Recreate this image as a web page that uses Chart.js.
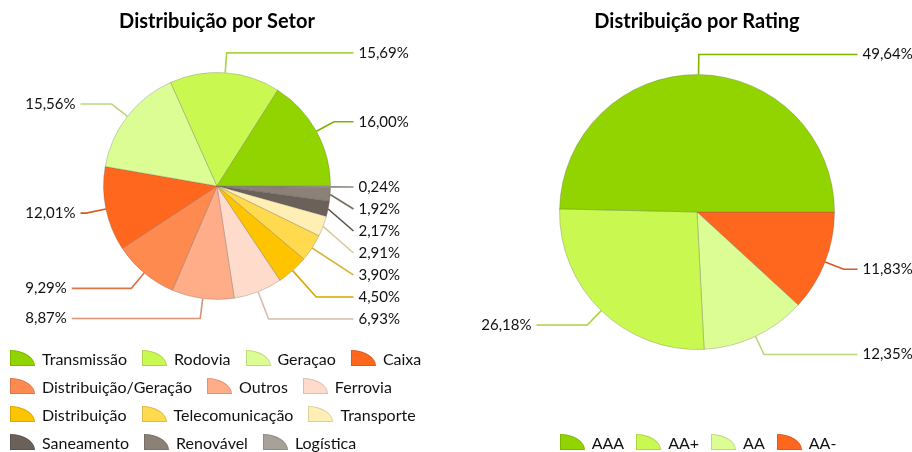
<!DOCTYPE html>
<html><head><meta charset="utf-8">
<script src="https://cdn.jsdelivr.net/npm/chart.js@4"></script>
<style>
html,body{margin:0;padding:0;background:#fff;}
body{width:912px;height:452px;position:relative;overflow:hidden;font-family:Lato,"Open Sans",sans-serif;}
canvas{position:absolute;top:0;}
#c1{left:0}
#c2{left:456px}
.legend{position:absolute;display:flex;flex-wrap:wrap;font-size:16px;color:#111;}
.item{display:flex;align-items:center;height:28px;margin-right:15px;white-space:nowrap;}
.icon{width:25px;height:16px;border-top-right-radius:100% 100%;margin-right:7px;box-sizing:border-box;border:1px solid rgba(0,0,0,0.13);}
#lg1{left:10px;top:344px;width:445px;}
#lg2{left:470px;top:428px;width:456px;justify-content:center;}
#lg2 .item{margin:0 6px;}
</style></head>
<body>
<canvas id="c1" width="456" height="452"></canvas>
<canvas id="c2" width="456" height="452"></canvas>
<div id="lg1" class="legend"></div>
<div id="lg2" class="legend"></div>
<script>
const setorTitle = 'Distribuição por Setor';
const setorLabels = ['Transmissão','Rodovia','Geraçao','Caixa','Distribuição/Geração','Outros','Ferrovia','Distribuição','Telecomunicação','Transporte','Saneamento','Renovável','Logística'];
const setorValues = [16.00,15.69,15.56,12.01,9.29,8.87,6.93,4.50,3.90,2.91,2.17,1.92,0.24];
const setorColors = ['#92D400','#C9F850','#DCFC94','#FF671F','#FF8A50','#FFAD88','#FFDBCC','#FFC400','#FFD94E','#FFEFB5','#6B6158','#8B8177','#A7A199'];

const ratingTitle = 'Distribuição por Rating';
const ratingLabels = ['AAA','AA+','AA','AA-'];
const ratingValues = [49.64,26.18,12.35,11.83];
const ratingColors = ['#92D400','#C9F850','#DCFC94','#FF671F'];

function fmt(v){ return v.toFixed(2).replace('.', ',') + '%'; }
function darken(hex, f){
  f = f || 0.85;
  const n = parseInt(hex.slice(1),16);
  const r = Math.round(((n>>16)&255)*f), g = Math.round(((n>>8)&255)*f), b = Math.round((n&255)*f);
  return 'rgb('+r+','+g+','+b+')';
}

const leaderPlugin = {
  id:'leader',
  afterDatasetsDraw(chart, args, opts){
    const ctx = chart.ctx;
    const meta = chart.getDatasetMeta(0);
    const ds = chart.data.datasets[0];
    const items = [];
    let cx=0, cy=0, R=0;
    meta.data.forEach((arc,i)=>{
      const p = arc.getProps(['x','y','startAngle','endAngle','outerRadius'], true);
      cx=p.x; cy=p.y; R=p.outerRadius;
      const mid=(p.startAngle+p.endAngle)/2;
      const c=Math.cos(mid), s=Math.sin(mid);
      items.push({c, s, ax:cx+R*c, ay:cy+R*s, ly:cy+(R+opts.radial)*s, right:c>=0,
        text:fmt(ds.data[i]), color:darken(ds.backgroundColor[i])});
    });
    ctx.save();
    ctx.font = opts.font;
    ctx.textBaseline = 'middle';
    ['right','left'].forEach(side=>{
      const list = items.filter(it=>(side==='right')===it.right).sort((a,b)=>a.ly-b.ly);
      for (let k=1;k<list.length;k++){
        if (list[k].ly < list[k-1].ly + opts.spacing) list[k].ly = list[k-1].ly + opts.spacing;
      }
      list.forEach(it=>it.w=ctx.measureText(it.text).width);
      const maxW = Math.max(0, ...list.map(it=>it.w));
      list.forEach(it=>{
        let tx, lx;
        if (side==='right'){ tx = cx+R+opts.gap; lx = tx-opts.textPad; }
        else { tx = cx-R-opts.gap-maxW; lx = tx+it.w+opts.textPad; }
        let ex = null;
        if (Math.abs(it.s)>1e-3){
          const t=(it.ly-it.ay)/it.s, x=it.ax+t*it.c;
          if (t>=0 && (side==='right' ? x<lx-4 : x>lx+4)) ex=x;
        }
        ctx.beginPath();
        ctx.moveTo(it.ax,it.ay);
        if (ex!==null) ctx.lineTo(ex,it.ly);
        ctx.lineTo(lx,it.ly);
        ctx.strokeStyle=it.color; ctx.lineWidth=1.6; ctx.stroke();
        ctx.fillStyle='#111'; ctx.textAlign='left';
        ctx.fillText(it.text,tx,it.ly);
      });
    });
    ctx.restore();
  }
};

function makePie(id, title, labels, values, colors, padding){
  const rl = labels.slice().reverse(), rv = values.slice().reverse(), rc = colors.slice().reverse();
  return new Chart(document.getElementById(id), {
    type:'pie',
    data:{labels:rl, datasets:[{data:rv, backgroundColor:rc, borderColor:'rgba(90,90,90,0.28)', borderWidth:1}]},
    options:{
      responsive:false, animation:false, rotation:90,
      layout:{padding:padding},
      plugins:{
        legend:{display:false}, tooltip:{enabled:false},
        title:{display:true, text:title, color:'#000', font:{family:'Lato', size:20, weight:'bold'}, padding:{top:10,bottom:0}},
        leader:{radial:20, spacing:22, gap:28, textPad:5, font:'15px Lato'}
      }
    },
    plugins:[leaderPlugin]
  });
}

makePie('c1', setorTitle, setorLabels, setorValues, setorColors, {left:103, right:125, top:0, bottom:114});
makePie('c2', ratingTitle, ratingLabels, ratingValues, ratingColors, {left:103, right:77, top:0, bottom:62});

function legend(id, labels, colors){
  const el = document.getElementById(id);
  labels.forEach((l,i)=>{
    const it = document.createElement('div'); it.className='item';
    const ic = document.createElement('div'); ic.className='icon'; ic.style.background=colors[i];
    const tx = document.createElement('span'); tx.textContent=l;
    it.appendChild(ic); it.appendChild(tx); el.appendChild(it);
  });
}
legend('lg1', setorLabels, setorColors);
legend('lg2', ratingLabels, ratingColors);
</script>
</body></html>
